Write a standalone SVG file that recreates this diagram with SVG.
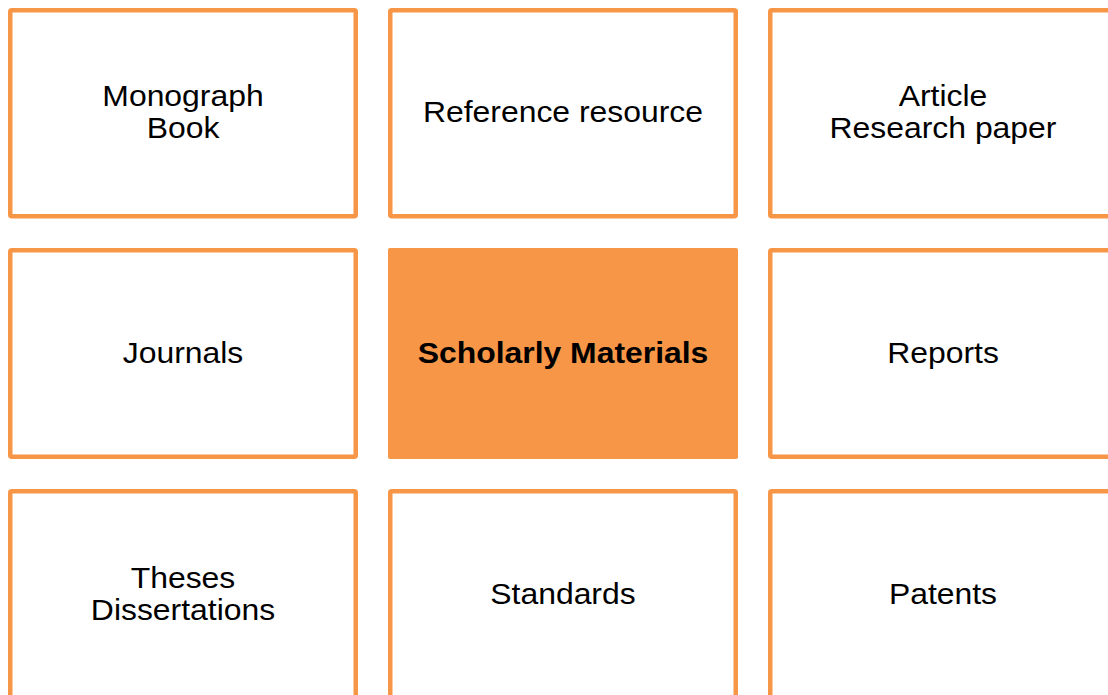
<svg xmlns="http://www.w3.org/2000/svg" width="1108" height="695" viewBox="0 0 1108 695">
<style>
.box{fill:#FFFFFF;stroke:#F79646;stroke-width:4.5}
.hub{fill:#F79646;stroke:none}
.t{font-family:"Liberation Sans",Arial,sans-serif;font-size:29px;fill:#000000;text-anchor:middle}
.b{font-weight:bold}
</style>
<rect x="0" y="0" width="1108" height="695" fill="#FFFFFF"/>
<g id="connectors"/>
<g id="monograph">
<rect class="box" x="10.25" y="10.25" width="345.5" height="206" rx="1.5"/>
<g transform="translate(183,0) scale(1.1,1)"><text class="t" x="0" y="106">Monograph</text><text class="t" x="0" y="138">Book</text></g>
</g>
<g id="reference">
<rect class="box" x="390.25" y="10.25" width="345.5" height="206" rx="1.5"/>
<g transform="translate(563,0) scale(1.1,1)"><text class="t" x="0" y="122">Reference resource</text></g>
</g>
<g id="article">
<rect class="box" x="770.25" y="10.25" width="345.5" height="206" rx="1.5"/>
<g transform="translate(943,0) scale(1.1,1)"><text class="t" x="0" y="106">Article</text><text class="t" x="0" y="138">Research paper</text></g>
</g>
<g id="journals">
<rect class="box" x="10.25" y="250.25" width="345.5" height="206.5" rx="1.5"/>
<g transform="translate(183,0) scale(1.1,1)"><text class="t" x="0" y="363.5">Journals</text></g>
</g>
<g id="scholarly">
<rect class="hub" x="388" y="248" width="350" height="211" rx="2"/>
<g transform="translate(563,0) scale(1.1,1)"><text class="t b" x="0" y="363.5">Scholarly Materials</text></g>
</g>
<g id="reports">
<rect class="box" x="770.25" y="250.25" width="345.5" height="206.5" rx="1.5"/>
<g transform="translate(943,0) scale(1.1,1)"><text class="t" x="0" y="363.5">Reports</text></g>
</g>
<g id="theses">
<rect class="box" x="10.25" y="491.25" width="345.5" height="206.5" rx="1.5"/>
<g transform="translate(183,0) scale(1.1,1)"><text class="t" x="0" y="588">Theses</text><text class="t" x="0" y="620">Dissertations</text></g>
</g>
<g id="standards">
<rect class="box" x="390.25" y="491.25" width="345.5" height="206.5" rx="1.5"/>
<g transform="translate(563,0) scale(1.1,1)"><text class="t" x="0" y="604.5">Standards</text></g>
</g>
<g id="patents">
<rect class="box" x="770.25" y="491.25" width="345.5" height="206.5" rx="1.5"/>
<g transform="translate(943,0) scale(1.1,1)"><text class="t" x="0" y="604.5">Patents</text></g>
</g>
</svg>
